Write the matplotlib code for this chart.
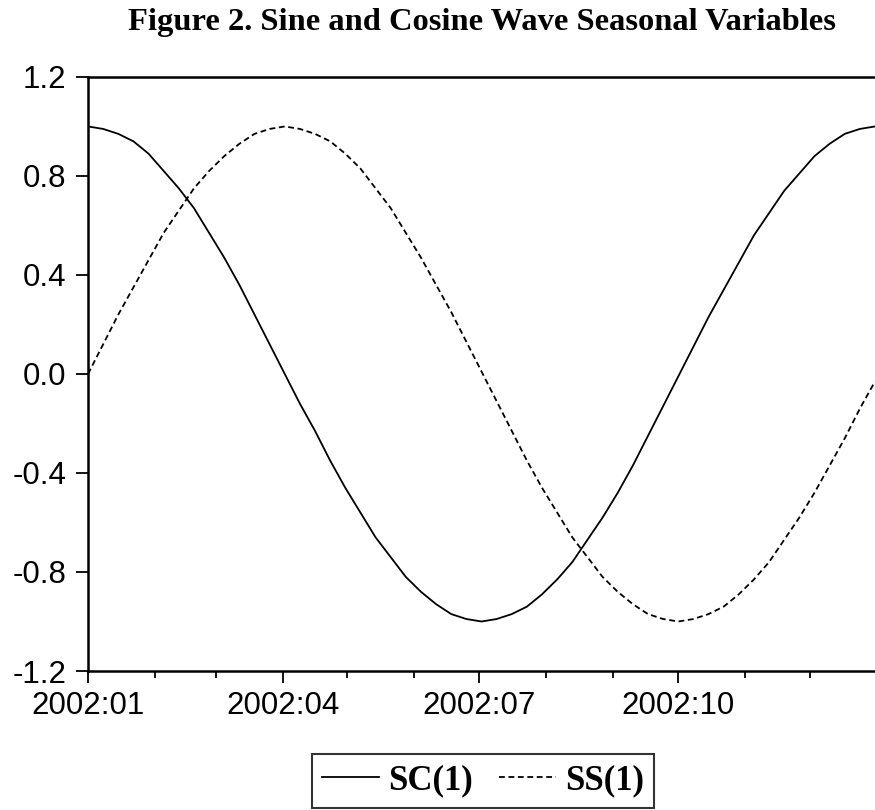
import numpy as np
import pandas as pd
import matplotlib
matplotlib.use("Agg")
import matplotlib.pyplot as plt
import matplotlib.dates as mdates

# weekly readings (Jan 1 .. Dec 31, 2002)
dates = pd.date_range("2002-01-01", periods=53, freq="7D")

sc1 = [1.00, 0.99, 0.97, 0.94, 0.89, 0.82, 0.75, 0.67, 0.57, 0.47,
       0.36, 0.24, 0.12, 0.00, -0.12, -0.23, -0.35, -0.46, -0.56, -0.66,
       -0.74, -0.82, -0.88, -0.93, -0.97, -0.99, -1.00, -0.99, -0.97, -0.94,
       -0.89, -0.83, -0.76, -0.67, -0.58, -0.48, -0.37, -0.25, -0.13, -0.01,
       0.11, 0.23, 0.34, 0.45, 0.56, 0.65, 0.74, 0.81, 0.88, 0.93,
       0.97, 0.99, 1.00]

ss1 = [0.00, 0.12, 0.24, 0.35, 0.46, 0.57, 0.66, 0.75, 0.82, 0.88,
       0.93, 0.97, 0.99, 1.00, 0.99, 0.97, 0.94, 0.89, 0.83, 0.75,
       0.67, 0.57, 0.47, 0.36, 0.25, 0.13, 0.01, -0.11, -0.23, -0.35,
       -0.46, -0.56, -0.66, -0.74, -0.82, -0.88, -0.93, -0.97, -0.99, -1.00,
       -0.99, -0.97, -0.94, -0.89, -0.83, -0.76, -0.67, -0.58, -0.48, -0.37,
       -0.26, -0.14, -0.03]

y_ticks = [-1.2, -0.8, -0.4, 0.0, 0.4, 0.8, 1.2]
x_major = ["2002-01-01", "2002-04-01", "2002-07-01", "2002-10-01"]
x_major_labels = ["2002:01", "2002:04", "2002:07", "2002:10"]
title = "Figure 2. Sine and Cosine Wave Seasonal Variables"

plt.rcParams["font.family"] = ["Liberation Sans", "DejaVu Sans"]
plt.rcParams["lines.scale_dashes"] = False

fig = plt.figure(figsize=(8.75, 8.1), dpi=100)
ax = fig.add_axes([0.1006, 0.1716, 0.8994, 0.7334])

ax.plot(dates, sc1, color="black", lw=1.3, label="SC(1)")
ax.plot(dates, ss1, color="black", lw=1.3, dashes=(4.2, 2.6), label="SS(1)")

ax.set_xlim(pd.Timestamp("2002-01-01"), pd.Timestamp("2002-12-31"))
ax.set_ylim(-1.2, 1.2)
ax.set_yticks(y_ticks)
ax.set_yticklabels([f"{v:.1f}" for v in y_ticks])

ax.set_xticks([pd.Timestamp(d) for d in x_major])
ax.set_xticklabels(x_major_labels)
ax.xaxis.set_minor_locator(mdates.MonthLocator())

ax.spines["right"].set_visible(False)
for s in ["left", "bottom", "top"]:
    ax.spines[s].set_linewidth(1.8)

ax.tick_params(axis="both", which="major", direction="out", length=8.5, width=1.3,
               labelsize=22.5)
ax.tick_params(axis="x", which="major", pad=6)
ax.tick_params(axis="y", which="major", pad=7)
ax.tick_params(axis="x", which="minor", direction="out", length=5, width=1.3)
ax.tick_params(axis="y", which="minor", left=False)

fig.text(0.551, 0.963, title, ha="center", va="baseline", fontsize=23.4,
         fontweight="bold", family="Liberation Serif")

leg = fig.legend(loc="center", bbox_to_anchor=(0.552, 0.0358), ncol=2,
                 fancybox=False, frameon=True, edgecolor="black",
                 prop={"family": "Liberation Serif", "weight": "bold", "size": 25},
                 handlelength=1.65, handletextpad=0.25, columnspacing=0.75,
                 borderpad=0.3, borderaxespad=0)
leg.get_frame().set_linewidth(1.5)

fig.savefig("out.png", dpi=100)
